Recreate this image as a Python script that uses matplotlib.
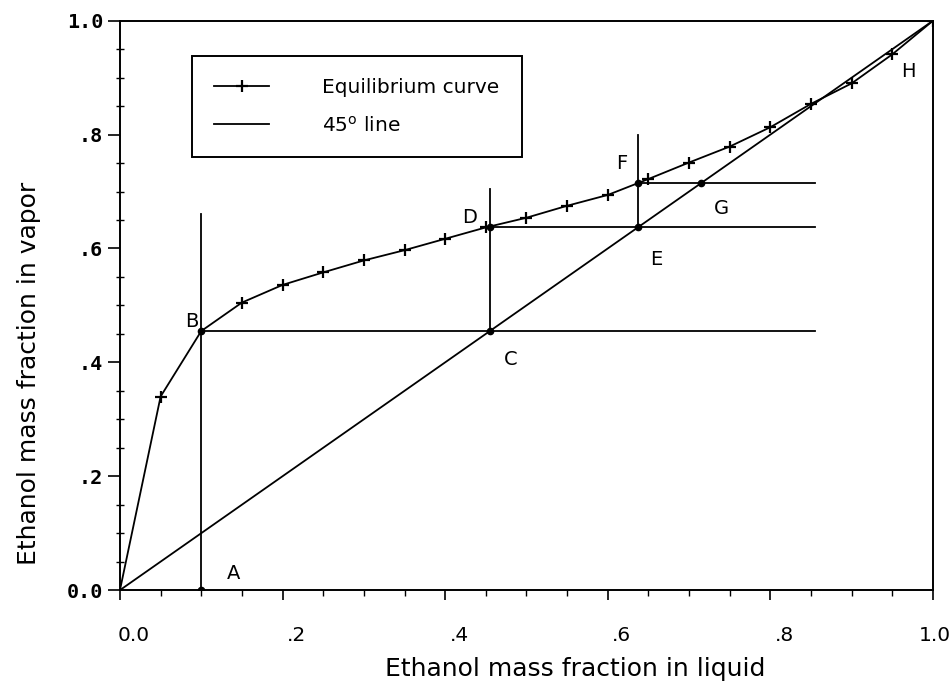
import matplotlib
matplotlib.use("Agg")
import matplotlib.pyplot as plt
from matplotlib.ticker import MultipleLocator, FixedLocator, FixedFormatter
from matplotlib.transforms import ScaledTranslation

# Equilibrium data (liquid x, vapor y)
eq_x = [0.0, 0.05, 0.10, 0.15, 0.20, 0.25, 0.30, 0.35, 0.40, 0.45, 0.50,
        0.55, 0.60, 0.65, 0.70, 0.75, 0.80, 0.85, 0.90, 0.95, 1.0]
eq_y = [0.0, 0.34, 0.455, 0.505, 0.536, 0.558, 0.579, 0.597, 0.617, 0.637, 0.654,
        0.675, 0.694, 0.722, 0.751, 0.779, 0.813, 0.854, 0.890, 0.941, 1.0]

diag = [0.0, 1.0]

# Construction (stage) lines
vert_x = [0.10, 0.455, 0.637]
vert_y0 = [0.0, 0.455, 0.637]
vert_y1 = [0.66, 0.705, 0.80]
horiz_y = [0.455, 0.637, 0.715]
horiz_x0 = [0.10, 0.455, 0.637]
horiz_x1 = [0.855, 0.855, 0.855]

# Labelled points
pt_names = ["A", "B", "C", "D", "E", "F", "G", "H"]
pt_x = [0.10, 0.10, 0.455, 0.455, 0.637, 0.637, 0.715, 1.0]
pt_y = [0.0, 0.455, 0.455, 0.637, 0.637, 0.715, 0.715, 1.0]
lab_x = [0.14, 0.088, 0.48, 0.43, 0.66, 0.617, 0.74, 0.97]
lab_y = [0.03, 0.472, 0.405, 0.655, 0.58, 0.75, 0.67, 0.91]

xticks = [0.0, 0.2, 0.4, 0.6, 0.8, 1.0]
xticklabels = ["0.0", ".2", ".4", ".6", ".8", "1.0"]
yticks = [0.0, 0.2, 0.4, 0.6, 0.8, 1.0]
yticklabels = ["0.0", ".2", ".4", ".6", ".8", "1.0"]

fig = plt.figure(figsize=(9.52, 6.91), dpi=100)
ax = fig.add_axes([0.126, 0.146, 0.854, 0.824])

lw = 1.3
mark_idx = [i for i in range(len(eq_x)) if i not in (0, 2)]
ax.plot(eq_x, eq_y, color="black", lw=lw, marker="+", ms=8.5, mew=1.6,
        markevery=mark_idx, label="Equilibrium curve")
ax.plot(diag, diag, color="black", lw=lw, label=r"45$^{\mathrm{o}}$ line")

for x, a, b in zip(vert_x, vert_y0, vert_y1):
    ax.plot([x, x], [a, b], color="black", lw=lw)
for y, a, b in zip(horiz_y, horiz_x0, horiz_x1):
    ax.plot([a, b], [y, y], color="black", lw=lw)

ax.plot(pt_x[:7], pt_y[:7], linestyle="none", marker="o", ms=4.5, color="black")
for n, x, y in zip(pt_names, lab_x, lab_y):
    ax.text(x, y, n, fontsize=14, ha="center", va="center", family="DejaVu Sans")

ax.set_xlim(0, 1.0)
ax.set_ylim(0, 1.0)
ax.xaxis.set_major_locator(FixedLocator(xticks))
ax.xaxis.set_major_formatter(FixedFormatter(xticklabels))
ax.yaxis.set_major_locator(FixedLocator(yticks))
ax.yaxis.set_major_formatter(FixedFormatter(yticklabels))
ax.xaxis.set_minor_locator(MultipleLocator(0.05))
ax.yaxis.set_minor_locator(MultipleLocator(0.05))
ax.tick_params(axis="x", which="major", direction="out", length=7, width=1.2,
               labelsize=14.5, pad=19)
ax.tick_params(axis="x", which="minor", direction="out", length=4, width=1.0)
ax.tick_params(axis="y", which="major", direction="out", length=9, width=1.2,
               labelsize=14.5, pad=3)
ax.tick_params(axis="y", which="minor", direction="inout", length=6, width=1.0)
for lab in ax.get_yticklabels():
    lab.set_family("DejaVu Sans Mono")
    lab.set_fontweight("bold")
# x tick labels sit slightly right of their ticks in the original
xl = ax.get_xticklabels()
for i, lab in enumerate(xl):
    dx = 14 if i < len(xl) - 1 else 2
    lab.set_transform(lab.get_transform() + ScaledTranslation(dx / 100, 0, fig.dpi_scale_trans))
for s in ax.spines.values():
    s.set_linewidth(1.4)

ax.set_xlabel("Ethanol mass fraction in liquid", fontsize=18)
ax.set_ylabel("Ethanol mass fraction in vapor", fontsize=18)
ax.xaxis.set_label_coords(0.56, -0.118)
ax.yaxis.set_label_coords(-0.097, 0.38)

leg = ax.legend(loc="upper left", bbox_to_anchor=(0.089, 0.938), fontsize=14.5,
                handlelength=2.7, handletextpad=2.65, borderpad=1.1,
                labelspacing=0.9, fancybox=False, framealpha=1,
                edgecolor="black", borderaxespad=0)
leg.get_frame().set_linewidth(1.4)

fig.savefig("out.png", dpi=100)
